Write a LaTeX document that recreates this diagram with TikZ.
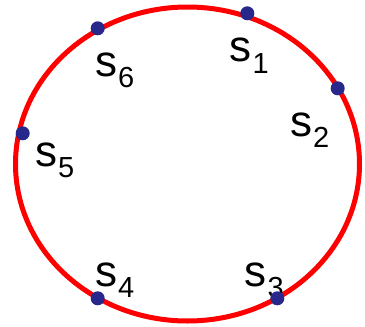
\documentclass[tikz,border=0pt]{standalone}
\usepackage{fontspec}
\setmainfont{Liberation Sans}
\definecolor{dotblue}{RGB}{40,40,140}
\newcommand\slab[1]{s\kern1pt\raisebox{-11.5pt}{\fontsize{29}{29}\selectfont #1}}
\begin{document}
\begin{tikzpicture}[x=1pt,y=-1pt,
  lab/.style={anchor=base west,inner sep=0pt,font=\fontsize{44}{44}\selectfont},
  pt/.style={circle,fill=dotblue,inner sep=0pt,minimum size=14pt}]
\useasboundingbox (0,0) rectangle (365,327);
\draw[red,line width=5pt] (187.5,164) ellipse [x radius=172,y radius=157];
\node[lab] (l1) at (229.5,61.5) {\slab{1}};
\node[lab] (l2) at (290,136.3) {\slab{2}};
\node[lab] (l3) at (244.5,286.3) {\slab{3}};
\node[lab] (l4) at (95,286.3) {\slab{4}};
\node[lab] (l5) at (35,166.3) {\slab{5}};
\node[lab] (l6) at (95,76) {\slab{6}};
\node[pt] (p1) at (247.3,13.3) {};
\node[pt] (p2) at (337.7,88.3) {};
\node[pt] (p3) at (277.3,298.3) {};
\node[pt] (p4) at (97.7,298.3) {};
\node[pt] (p5) at (22.7,133.3) {};
\node[pt] (p6) at (97.7,28.3) {};
\end{tikzpicture}
\end{document}
